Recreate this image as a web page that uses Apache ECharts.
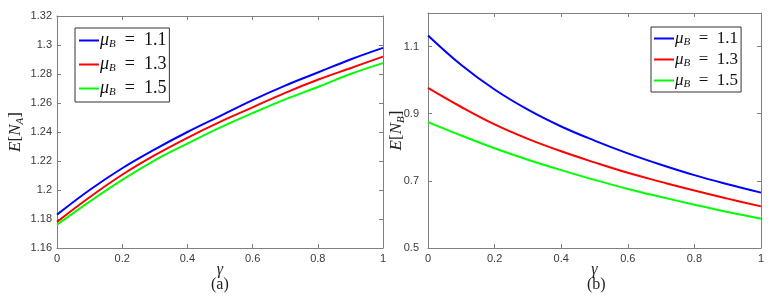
<!DOCTYPE html>
<html>
<head>
<meta charset="utf-8">
<script src="https://cdn.jsdelivr.net/npm/echarts@6/dist/echarts.min.js"></script>
<style>html,body{margin:0;padding:0;background:#fff;}#c{width:775px;height:299px;}</style>
</head>
<body>
<div id="c"></div>
<script>
// ---- data ----
var gammas = [0, 0.1, 0.2, 0.3, 0.4, 0.5, 0.6, 0.7, 0.8, 0.9, 1.0];
var seriesNames = ['μB = 1.1', 'μB = 1.3', 'μB = 1.5'];
var legendLabels = ['1.1', '1.3', '1.5'];
// Panel (a): E[N_A]
var NA_mu11 = [1.183, 1.200, 1.215, 1.228, 1.240, 1.251, 1.262, 1.272, 1.281, 1.290, 1.298];
var NA_mu13 = [1.178, 1.195, 1.2105, 1.224, 1.236, 1.247, 1.257, 1.267, 1.276, 1.284, 1.292];
var NA_mu15 = [1.176, 1.192, 1.207, 1.2205, 1.232, 1.243, 1.253, 1.2625, 1.271, 1.280, 1.2875];
// Panel (b): E[N_B]
var NB_mu11 = [1.133, 1.045, 0.972, 0.912, 0.862, 0.820, 0.782, 0.748, 0.717, 0.690, 0.665];
var NB_mu13 = [0.977, 0.920, 0.868, 0.825, 0.788, 0.755, 0.724, 0.697, 0.671, 0.647, 0.624];
var NB_mu15 = [0.875, 0.835, 0.797, 0.763, 0.732, 0.703, 0.676, 0.652, 0.629, 0.607, 0.587];
var colors = ['#0000ff', '#ff0000', '#00ff00'];

function pairs(ys) { return gammas.map(function (g, i) { return [g, ys[i]]; }); }

var axisColor = '#808080';
var labelStyle = { color: '#3a3a3a', fontFamily: 'Liberation Sans', fontSize: 11 };
var serif = 'Liberation Serif';

function xAxes(gi) {
  return [{
    type: 'value', gridIndex: gi, position: 'bottom', min: 0, max: 1, interval: 0.2,
    axisLine: { show: true, lineStyle: { color: axisColor } },
    axisTick: { show: true, inside: true, length: 4, lineStyle: { color: axisColor } },
    axisLabel: Object.assign({ margin: 5 }, labelStyle),
    splitLine: { show: false },
    name: 'γ', nameLocation: 'middle', nameGap: 14, nameMoveOverlap: false,
    nameTextStyle: { fontFamily: serif, fontStyle: 'italic', fontSize: 16, color: '#222' }
  }, {
    type: 'value', gridIndex: gi, position: 'top', min: 0, max: 1, interval: 0.2,
    axisLine: { show: true, onZero: false, lineStyle: { color: axisColor } },
    axisTick: { show: true, inside: true, length: 4, lineStyle: { color: axisColor } },
    axisLabel: { show: false }, splitLine: { show: false }
  }];
}
function yAxes(gi, min, max, interval, nameRich, gap, margin) {
  var rich = {
    i: { fontFamily: serif, fontStyle: 'italic', fontSize: 17, color: '#222' },
    r: { fontFamily: serif, fontSize: 17, color: '#222' },
    s: { fontFamily: serif, fontStyle: 'italic', fontSize: 11, color: '#222', padding: [9, 0, 0, 0] }
  };
  return [{
    type: 'value', gridIndex: gi, position: 'left', min: min, max: max, interval: interval,
    axisLine: { show: true, onZero: false, lineStyle: { color: axisColor } },
    axisTick: { show: true, inside: true, length: 4, lineStyle: { color: axisColor } },
    axisLabel: Object.assign({ margin: margin, showMaxLabel: gi === 0 }, labelStyle),
    splitLine: { show: false },
    name: nameRich, nameLocation: 'middle', nameGap: gap, nameRotate: 90, nameMoveOverlap: false,
    nameTextStyle: { rich: rich }
  }, {
    type: 'value', gridIndex: gi, position: 'right', min: min, max: max, interval: interval,
    axisLine: { show: true, onZero: false, lineStyle: { color: axisColor } },
    axisTick: { show: true, inside: true, length: 4, lineStyle: { color: axisColor } },
    axisLabel: { show: false }, splitLine: { show: false }
  }];
}

var xs = xAxes(0).concat(xAxes(1));
var ys = yAxes(0, 1.16, 1.32, 0.02, '{i|E}{r|[}{i|N}{s|A}{r|]}', 31, 5)
  .concat(yAxes(1, 0.5, 1.2, 0.2, '{i|E}{r|[}{i|N}{s|B}{r|]}', 21, 9));

var dataA = [NA_mu11, NA_mu13, NA_mu15];
var dataB = [NB_mu11, NB_mu13, NB_mu15];
var series = [];
dataA.forEach(function (d, k) {
  series.push({ type: 'line', name: seriesNames[k], xAxisIndex: 0, yAxisIndex: 0, data: pairs(d),
    smooth: 0.4, symbol: 'none', lineStyle: { color: colors[k], width: 2 }, itemStyle: { color: colors[k] }, z: 3 - k });
});
dataB.forEach(function (d, k) {
  series.push({ type: 'line', name: seriesNames[k], xAxisIndex: 2, yAxisIndex: 2, data: pairs(d),
    smooth: 0.4, symbol: 'none', lineStyle: { color: colors[k], width: 2 }, itemStyle: { color: colors[k] }, z: 3 - k });
});

function legendRich(fs) {
  return {
    i: { fontFamily: serif, fontStyle: 'italic', fontSize: fs, color: '#111', lineHeight: 18 },
    s: { fontFamily: serif, fontStyle: 'italic', fontSize: 11, color: '#111', padding: [8, 0, 0, 0], lineHeight: 18 },
    r: { fontFamily: serif, fontSize: fs, color: '#111', lineHeight: 18 }
  };
}
function legendFmt(name) {
  var idx = seriesNames.indexOf(name);
  return '{i|μ}{s|B}{r|  =  ' + legendLabels[idx] + '}';
}
function legend(left, top, gap, pad, fs) {
  return {
    orient: 'vertical', left: left, top: top, data: seriesNames,
    icon: 'rect', itemWidth: 20, itemHeight: 2, itemGap: gap, padding: pad,
    backgroundColor: '#fff', borderColor: '#333', borderWidth: 1,
    selectedMode: false, formatter: legendFmt,
    textStyle: { rich: legendRich(fs), padding: [0, 0, 0, -4] }
  };
}

var chart = echarts.init(document.getElementById('c'), null, { renderer: 'canvas' });
chart.setOption({
  animation: false,
  backgroundColor: '#fff',
  grid: [
    { left: 57, right: 392, top: 16, bottom: 51 },
    { left: 428, right: 14, top: 13, bottom: 51 }
  ],
  xAxis: xs,
  yAxis: ys,
  legend: [legend(75, 28, 5, [3, 3, 4, 4], 18), legend(651, 27, 2, [2, 3, 2, 3], 17)],
  graphic: [
    { type: 'text', left: 211, top: 277, style: { text: '(a)', font: '16px "Liberation Serif"', fill: '#222' } },
    { type: 'text', left: 587, top: 277, style: { text: '(b)', font: '16px "Liberation Serif"', fill: '#222' } }
  ],
  series: series
});
</script>
</body>
</html>
